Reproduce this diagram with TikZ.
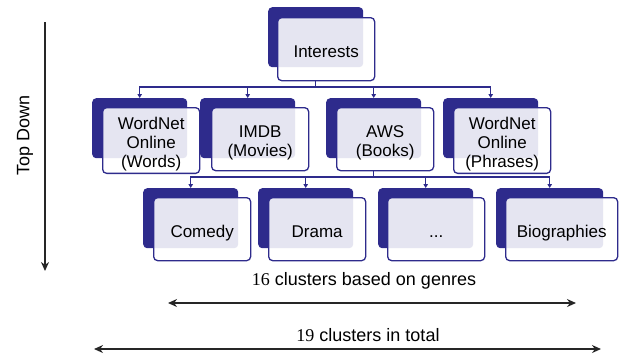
\documentclass[tikz,border=0pt]{standalone}
\usepackage{fontspec}
\setmainfont{Liberation Sans}
\newfontfamily\numfont{Liberation Serif}
\usetikzlibrary{arrows.meta}
\definecolor{navy}{HTML}{2E2B8C}
\newcommand\toprule{\rule{0pt}{22bp}}
\begin{document}
\begin{tikzpicture}[x=1bp,y=-1bp,
 backbox/.style={fill=navy, rounded corners=4bp, anchor=north west, minimum width=95bp, minimum height=60bp, inner sep=0pt},
 frontbox/.style={draw=navy, line width=1.3bp, fill=white, fill opacity=0.88, text opacity=1, rounded corners=4bp, anchor=north west, minimum width=97bp, minimum height=63bp, inner sep=0pt, align=center, font=\fontsize{17bp}{19bp}\selectfont, text=black},
 conn/.style={draw=navy, line width=1.3bp, -{Triangle[length=4bp,width=4.5bp]}},
 dimboth/.style={line width=1.5bp, draw=black!85, {Stealth[length=9bp,width=8bp]}-{Stealth[length=9bp,width=8bp]}},
 dimone/.style={line width=1.5bp, draw=black!85, -{Stealth[length=9bp,width=8bp]}},
 lab/.style={font=\fontsize{18bp}{20bp}\selectfont, text=black, inner sep=0pt}]
\useasboundingbox (0,0) rectangle (634,353);
% row 1
\node[backbox] (intb) at (268,7) {};
\node[frontbox] (intf) at (277,17) {\toprule Interests\strut};
% row 2
\node[backbox] (wn1b) at (92,98) {};
\node[frontbox] (wn1f) at (102,107) {\toprule WordNet\\Online\\(Words)\strut};
\node[backbox] (imdbb) at (200,98) {};
\node[frontbox] (imdbf) at (211,107) {\toprule IMDB\\(Movies)\strut};
\node[backbox] (awsb) at (326,98) {};
\node[frontbox] (awsf) at (336,107) {\toprule AWS\\(Books)\strut};
\node[backbox] (wn2b) at (443,98) {};
\node[frontbox] (wn2f) at (453,107) {\toprule WordNet\\Online\\(Phrases)\strut};
% row 3
\node[backbox] (comb) at (143,188) {};
\node[frontbox] (comf) at (153,197) {\toprule Comedy\strut};
\node[backbox] (drab) at (258,188) {};
\node[frontbox] (draf) at (268,197) {\toprule Drama\strut};
\node[backbox] (dotb) at (378,188) {};
\node[frontbox] (dotf) at (387,197) {\toprule ...\strut};
\node[backbox, minimum width=107bp] (biob) at (496,188) {};
\node[frontbox, minimum width=112bp] (biof) at (505,197) {\toprule Biographies\strut};
% connectors
\coordinate (bus1) at (0,87);
\coordinate (bus2) at (0,177);
\foreach \c in {wn1b,imdbb,awsb,wn2b}
  \draw[conn] (intb.south |- intf.south) -- (intb.south |- bus1) -| (\c.north);
\foreach \c in {comb,drab,dotb,biob}
  \draw[conn] (awsb.south |- awsf.south) -- (awsb.south |- bus2) -| (\c.north);
% top down
\coordinate (tdtop) at (45,22);
\coordinate (tdbot) at (45,271);
\draw[dimone] (tdtop) -- (tdbot);
\node[lab, rotate=90] (td) at (25,135) {Top Down};
% bottom dimension lines
\node[lab] (g16) at (364,281) {{\numfont 16} clusters based on genres};
\coordinate (g16l) at (168,303);
\coordinate (g16r) at (576,303);
\draw[dimboth] (g16l) -- (g16r);
\node[lab] (t19) at (368,335) {{\numfont 19} clusters in total};
\coordinate (t19l) at (94,349);
\coordinate (t19r) at (601,349);
\draw[dimboth] (t19l) -- (t19r);
\end{tikzpicture}
\end{document}
